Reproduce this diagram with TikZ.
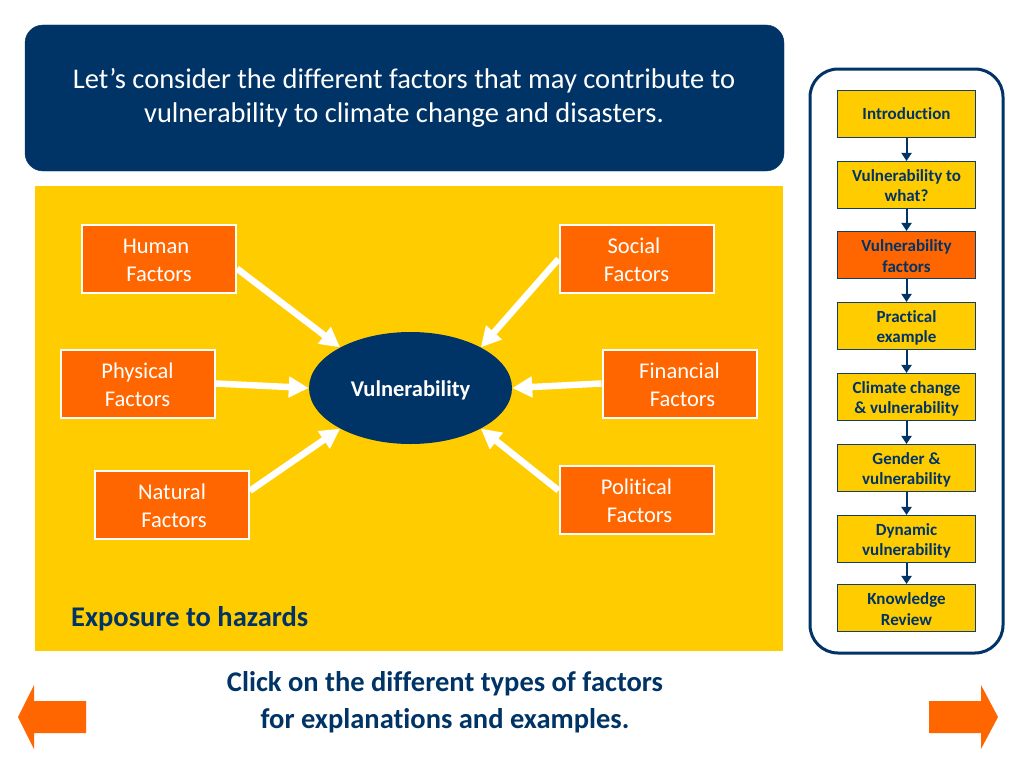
\documentclass[tikz,border=0pt]{standalone}
\usepackage{fontspec}
\setmainfont[Ligatures=NoCommon]{Carlito}
\usetikzlibrary{arrows.meta,shapes.geometric}
\definecolor{navy}{HTML}{003366}
\definecolor{gold}{HTML}{FFCC00}
\definecolor{org}{HTML}{FF6600}
% pads the first line of a node, so that the block of text sits lower (by half the pad)
\newcommand{\downl}[2]{\raisebox{0pt}[\dimexpr\height+#1pt\relax]{#2}}
\tikzset{
 factor/.style={draw=white,line width=2pt,fill=org,text=white,minimum width=154pt,minimum height=68pt,inner sep=0pt,align=center,font=\fontsize{22.5}{28}\selectfont},
 navbox/.style={draw=navy!85!gray,line width=1.1pt,fill=gold,text=navy,minimum width=138pt,minimum height=47pt,inner sep=0pt,align=center,font=\fontsize{17}{20.7}\selectfont\bfseries},
 navcur/.style={navbox,fill=org},
 navarrow/.style={draw=navy,line width=2pt,-{Triangle[length=8pt,width=10pt]}},
 bigarrow/.style={draw=white,line width=6.5pt,-{Triangle[length=20pt,width=20pt]}},
 pagearrow/.style={fill=org,draw=none},
}
\begin{document}
\begin{tikzpicture}[x=1pt,y=-1pt]
\useasboundingbox (0,0) rectangle (1024,768);
\fill[white] (0,0) rectangle (1024,768);
\filldraw[navy,rounded corners=18pt] (25,25) rectangle (784,171);
\node[text=white,align=center,font=\fontsize{28.5}{34.5}\selectfont,anchor=center] (title) at (404,98) {Let’s consider the different factors that may contribute to\\vulnerability to climate change and disasters.};
\fill[gold] (35,186) rectangle (783,651);
\node[text=navy,font=\fontsize{28.5}{30}\selectfont\bfseries,anchor=west,inner sep=0pt] (expo) at (71,619) {Exposure to hazards};
\node[fill=navy,ellipse,minimum width=203pt,minimum height=112pt,inner sep=0pt,text=white,font=\fontsize{22.5}{24}\selectfont\bfseries] (vuln) at (410.5,388) {\downl{4}{Vulnerability}};
\node[factor] (human) at (159,259) {\downl{2}{Human\hspace*{6pt}}\\Factors};
\node[factor] (social) at (636.5,259) {\downl{2}{Social\hspace*{5pt}}\\Factors};
\node[factor] (physical) at (137.5,383.5) {\downl{2}{Physical}\\Factors};
\node[factor] (financial) at (679.5,383.5) {\downl{2}{Financial}\\\hspace*{6pt}Factors};
\node[factor] (natural) at (172,504.5) {\downl{2}{Natural}\\\hspace*{4pt}Factors};
\node[factor] (political) at (636.5,500) {\downl{2}{Political}\\\hspace*{6pt}Factors};
\draw[bigarrow] (human.-7) -- (vuln.150);
\draw[bigarrow] (physical.east) -- (vuln.west);
\draw[bigarrow] (natural.10) -- (vuln.210);
\draw[bigarrow] (social.west) -- (vuln.30);
\draw[bigarrow] (financial.west) -- (vuln.east);
\draw[bigarrow] (political.173) -- (vuln.-30);
\draw[navy,line width=3pt,rounded corners=28pt] (810,69) rectangle (1003,653);
\node[navbox] (n-a) at (906.5,114) {Introduction};
\node[navbox] (n-b) at (906.5,185) {\downl{1}{Vulnerability to}\\what?};
\node[navcur] (n-c) at (906.5,255) {\downl{2}{Vulnerability}\\factors};
\node[navbox] (n-d) at (906.5,326) {\downl{4}{Practical}\\example};
\node[navbox] (n-e) at (906.5,397) {\downl{4}{Climate change}\\\& vulnerability};
\node[navbox] (n-f) at (906.5,468) {\downl{4}{Gender \&}\\vulnerability};
\node[navbox] (n-g) at (906.5,539) {\downl{4}{Dynamic}\\vulnerability};
\node[navbox] (n-h) at (906.5,608) {\downl{2}{Knowledge}\\Review};
\foreach \a/\b in {a/b,b/c,c/d,d/e,e/f,f/g,g/h}{\draw[navarrow] (n-\a) -- (n-\b);}
\node[text=navy,align=center,font=\fontsize{28.5}{37.5}\selectfont\bfseries] (click) at (445,702) {Click on the different types of factors\\for explanations and examples.};
\fill[pagearrow] (18,717) -- (34,685) -- (34,701) -- (86,701) -- (86,733) -- (34,733) -- (34,749) -- cycle;
\fill[pagearrow] (998,717) -- (981,685) -- (981,701) -- (929,701) -- (929,733) -- (981,733) -- (981,749) -- cycle;
\end{tikzpicture}
\end{document}
